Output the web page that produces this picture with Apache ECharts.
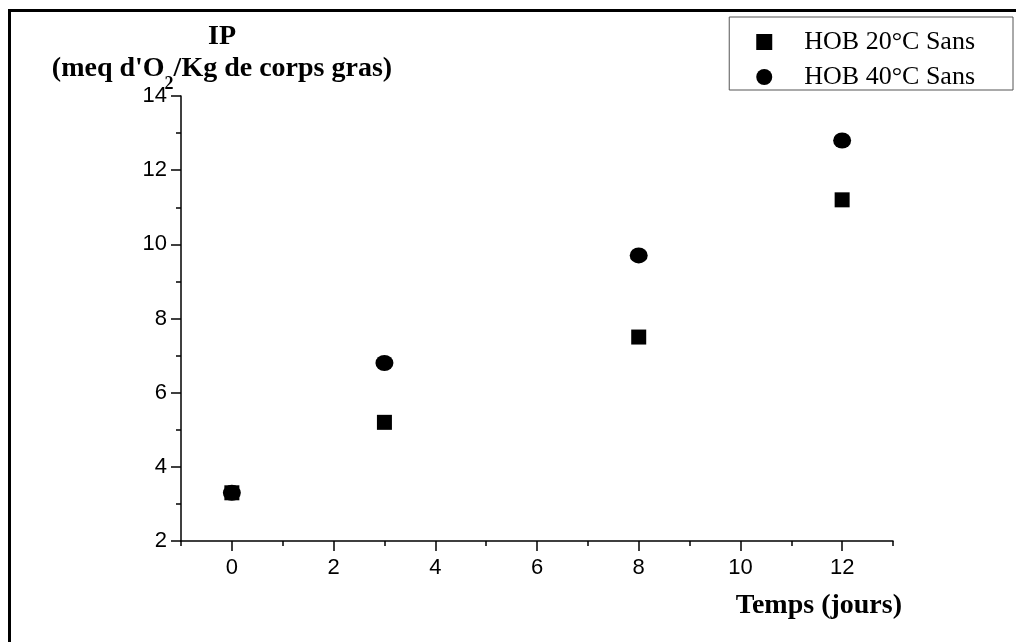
<!DOCTYPE html>
<html>
<head>
<meta charset="utf-8">
<script src="https://cdn.jsdelivr.net/npm/echarts@6/dist/echarts.min.js"></script>
<style>
html,body{margin:0;padding:0;background:#fff;}
#chart{width:1016px;height:642px;}
</style>
</head>
<body>
<div id="chart"></div>
<script>
// ---- data ----
const seriesNames = ['HOB 20°C Sans', 'HOB 40°C Sans'];
const days = [0, 3, 8, 12];
const hob20 = [3.3, 5.2, 7.5, 11.2];
const hob40 = [3.3, 6.8, 9.7, 12.8];
const xMajorTicks = [0, 2, 4, 6, 8, 10, 12];
const xMinorTicks = [-1, 1, 3, 5, 7, 9, 11, 13];
const yTickValues = [2, 4, 6, 8, 10, 12, 14];

const serif = "'Liberation Serif', 'Times New Roman', serif";
const sans = "'Liberation Sans', Arial, sans-serif";

const chart = echarts.init(document.getElementById('chart'), null, {renderer: 'canvas'});

const option = {
  animation: false,
  backgroundColor: '#fff',
  graphic: [{
    type: 'rect',
    shape: {x: 9.5, y: 10.5, width: 1200, height: 800},
    style: {fill: 'none', stroke: '#000', lineWidth: 3},
    silent: true
  }],
  grid: {left: 181, right: 123, top: 96, bottom: 101, containLabel: false},
  legend: {
    orient: 'vertical',
    right: 3,
    top: 17,
    padding: [12, 38, 0, 27],
    itemWidth: 16,
    itemHeight: 16,
    itemGap: 9,
    borderColor: '#555',
    borderWidth: 1,
    backgroundColor: '#fff',
    data: [
      {name: seriesNames[0], icon: 'rect', itemStyle: {color: '#000', opacity: 1}},
      {name: seriesNames[1], icon: 'circle', itemStyle: {color: '#000', opacity: 1}}
    ],
    textStyle: {fontFamily: serif, fontSize: 26, color: '#000', padding: [0, 0, 0, 27]}
  },
  xAxis: [{
    type: 'value',
    min: -1,
    max: 13,
    position: 'bottom',
    splitLine: {show: false},
    axisLine: {show: true, onZero: false, lineStyle: {color: '#000', width: 1.5}},
    axisTick: {show: true, customValues: xMajorTicks, length: 10, lineStyle: {color: '#000', width: 1.5}},
    axisLabel: {show: true, customValues: xMajorTicks, fontFamily: sans, fontSize: 22, color: '#000', margin: 16},
    name: 'Temps (jours)',
    nameLocation: 'end',
    nameGap: 9,
    nameMoveOverlap: false,
    nameTextStyle: {fontFamily: serif, fontSize: 28, fontWeight: 'bold', color: '#000', align: 'right', verticalAlign: 'top', padding: [51, 0, 0, 0]}
  }, {
    type: 'value',
    min: -1,
    max: 13,
    position: 'bottom',
    splitLine: {show: false},
    axisLine: {show: false, onZero: false},
    axisTick: {show: true, customValues: xMinorTicks, length: 5, lineStyle: {color: '#000', width: 1.5}},
    axisLabel: {show: false}
  }],
  yAxis: {
    type: 'value',
    min: 2,
    max: 14,
    interval: 2,
    splitLine: {show: false},
    axisLine: {show: true, onZero: false, lineStyle: {color: '#000', width: 1.5}},
    axisTick: {show: true, length: 10, lineStyle: {color: '#000', width: 1.5}},
    minorTick: {show: true, splitNumber: 2, length: 5, lineStyle: {color: '#000', width: 1.5}},
    axisLabel: {fontFamily: sans, fontSize: 22, color: '#000', margin: 14,
      formatter: v => yTickValues.includes(v) ? String(v) : ''},
    name: "{ip|IP}\n{b|(meq d'O}{sub|2}{b|/Kg de corps gras)}",
    nameLocation: 'end',
    nameGap: 15,
    nameMoveOverlap: false,
    nameTextStyle: {
      align: 'center',
      padding: [0, 0, 0, 82],
      rich: {
        ip: {fontFamily: serif, fontSize: 28, fontWeight: 'bold', color: '#000', lineHeight: 32, verticalAlign: 'top'},
        b: {fontFamily: serif, fontSize: 28, fontWeight: 'bold', color: '#000', lineHeight: 26, verticalAlign: 'top'},
        sub: {fontFamily: serif, fontSize: 18, fontWeight: 'bold', color: '#000', lineHeight: 16, padding: [20, 0, 0, 0], verticalAlign: 'top'}
      }
    }
  },
  series: [{
    name: seriesNames[0],
    type: 'scatter',
    xAxisIndex: 0,
    symbol: 'rect',
    symbolSize: 15,
    itemStyle: {color: '#000', opacity: 1},
    data: days.map((d, i) => [d, hob20[i]])
  }, {
    name: seriesNames[1],
    type: 'scatter',
    xAxisIndex: 0,
    symbol: 'circle',
    symbolSize: [18, 16],
    itemStyle: {color: '#000', opacity: 1},
    data: days.map((d, i) => [d, hob40[i]])
  }]
};
chart.setOption(option);
</script>
</body>
</html>
